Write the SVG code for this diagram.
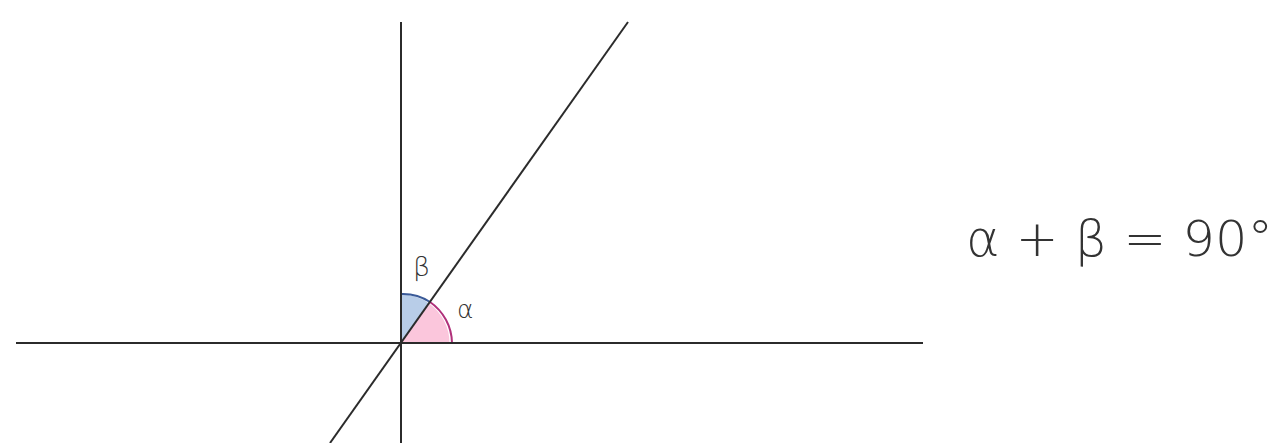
<svg xmlns="http://www.w3.org/2000/svg" width="1281" height="443" viewBox="0 0 1281 443">
<style>
.ln{stroke:#2b2b2b;stroke-width:2;fill:none}
.lbl{font-family:"DejaVu Sans","Liberation Sans",sans-serif;fill:#333;font-weight:200}
</style>
<rect width="1281" height="443" fill="#fff"/>
<g id="angles">
<path d="M401,343 L449.5,343 A48.5,48.5 0 0 0 429,303.4 Z" fill="#fbc6dc"/>
<path d="M401,343 L429,303.4 A48.5,48.5 0 0 0 401,294.5 Z" fill="#b8cde8"/>
<path d="M452,343 A51,51 0 0 0 430,302" stroke="#b0307a" stroke-width="2" fill="none"/>
<path d="M430,302 A49,49 0 0 0 401,294" stroke="#3a5a98" stroke-width="2" fill="none"/>
</g>
<g id="connectors">
<line class="ln" x1="16" y1="343" x2="923" y2="343"/>
<line class="ln" x1="401" y1="22" x2="401" y2="443"/>
<line class="ln" x1="628" y1="22" x2="330" y2="443"/>
</g>
<g id="labels">
<text class="lbl" x="413" y="276" font-size="27">β</text>
<text class="lbl" x="457" y="318" font-size="25">α</text>
<text class="lbl" x="966" y="256" font-size="50" textLength="307" lengthAdjust="spacingAndGlyphs">α + β = 90°</text>
</g>
</svg>
